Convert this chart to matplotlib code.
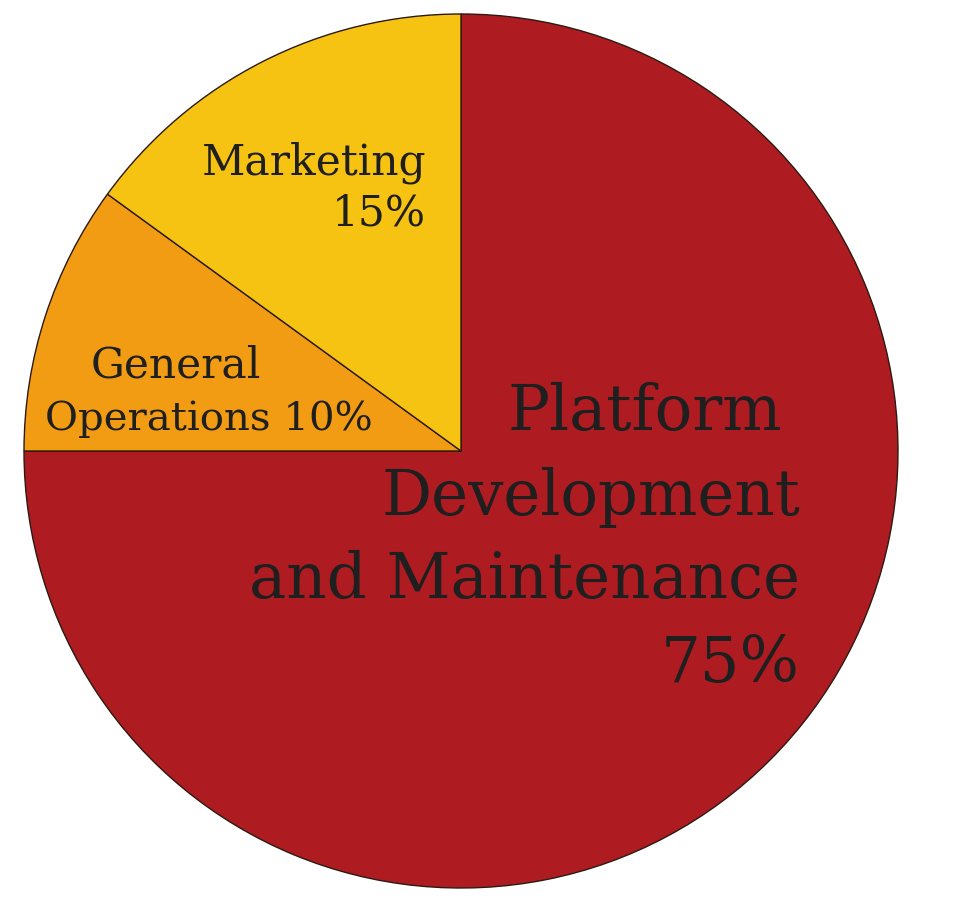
import matplotlib
matplotlib.use("Agg")
import matplotlib.pyplot as plt

categories = ["Platform Development and Maintenance", "General Operations", "Marketing"]
values = [75, 10, 15]
colors = ["#AE1C22", "#F19C12", "#F6C313"]

W, H = 964, 900
cx, cy, R = 461, 451, 437

fig = plt.figure(figsize=(W / 100, H / 100), dpi=100)
ax = fig.add_axes([0, 0, 1, 1])
ax.pie(values, colors=colors, startangle=90, counterclock=False, radius=1.0,
       wedgeprops=dict(edgecolor="#2b1a12", linewidth=1.0))
ax.set_xlim(-cx / R, (W - cx) / R)
ax.set_ylim(-(H - cy) / R, cy / R)
ax.set_aspect("equal")
ax.axis("off")

def px(x, y):
    return (x - cx) / R, (cy - y) / R

tc = "#1f1f1f"
fam = "DejaVu Serif"

big = 45
for txt, yb in [("Platform", 430), ("Development", 515), ("and Maintenance", 598), ("75%", 682)]:
    xr = 782 if txt == "Platform" else 800
    ax.text(*px(xr, yb), txt, ha="right", va="baseline", fontsize=big, color=tc, family=fam)

small = 30.5
ax.text(*px(426, 174), "Marketing", ha="right", va="baseline", fontsize=small, color=tc, family=fam)
ax.text(*px(426, 226), "15%", ha="right", va="baseline", fontsize=small, color=tc, family=fam)
ax.text(*px(176, 378), "General", ha="center", va="baseline", fontsize=small, color=tc, family=fam)
ax.text(*px(209, 430), "Operations 10%", ha="center", va="baseline", fontsize=29, color=tc, family=fam)

fig.savefig("out.png", dpi=100, facecolor="white")
